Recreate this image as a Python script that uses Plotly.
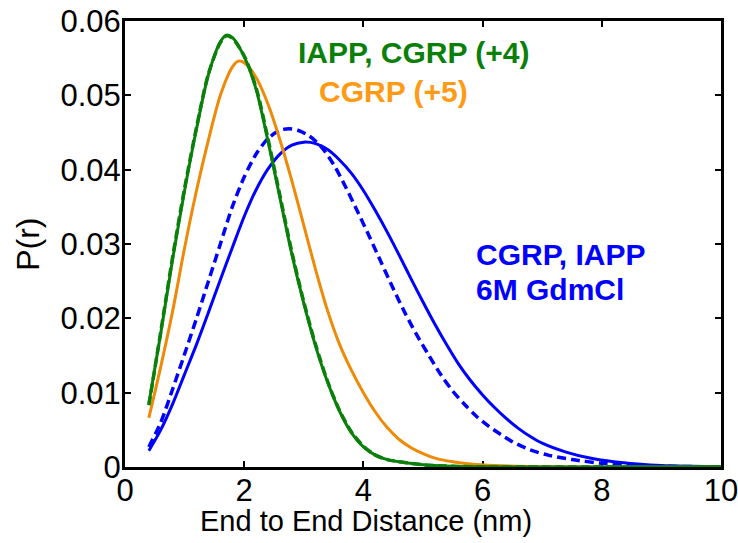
import plotly.graph_objects as go

# ---- data ----
green_x = [0.4, 0.6, 0.8, 1.0, 1.2, 1.4, 1.6, 1.7, 1.8, 2.0, 2.2, 2.4, 2.6, 2.8, 3.0, 3.2, 3.4,
           3.6, 3.8, 4.0, 4.2, 4.4, 4.6, 5.0, 5.5, 6.0, 7.0, 8.0, 9.0, 10.0]
green_y = [0.0085, 0.0180, 0.0280, 0.0372, 0.0455, 0.0528, 0.0572, 0.0581, 0.0578, 0.0552, 0.0508,
           0.0438, 0.0362, 0.0286, 0.0220, 0.0162, 0.0114, 0.0075, 0.0046, 0.0027, 0.0016, 0.0010,
           0.0007, 0.0003, 0.0001, 0.00003, 0.0, 0.0, 0.0, 0.0]
green_dash_x = [0.4, 0.6, 0.8, 1.0, 1.2, 1.4, 1.6, 1.7, 1.8, 2.0, 2.2, 2.4, 2.6, 2.8, 3.0, 3.2, 3.4,
                3.6, 3.8, 4.0, 4.2, 4.4, 4.6, 5.0, 5.5, 6.0, 7.0, 8.0, 9.0, 10.0]
green_dash_y = [0.0083, 0.0182, 0.0283, 0.0375, 0.0457, 0.0529, 0.0571, 0.0580, 0.0577, 0.0553, 0.0510,
                0.0441, 0.0365, 0.0289, 0.0222, 0.0164, 0.0115, 0.0076, 0.0047, 0.0028, 0.0016, 0.0010,
                0.0007, 0.0003, 0.0001, 0.00003, 0.0, 0.0, 0.0, 0.0]

orange_x = [0.4, 0.6, 0.8, 1.0, 1.2, 1.4, 1.6, 1.8, 1.9, 2.0, 2.2, 2.4, 2.6, 2.8, 3.0, 3.2, 3.4, 3.6,
            3.8, 4.0, 4.2, 4.4, 4.6, 4.8, 5.0, 5.2, 5.5, 5.8, 6.2, 7.0, 8.0, 9.0, 10.0]
orange_y = [0.0066, 0.0135, 0.0210, 0.0295, 0.0372, 0.0440, 0.0500, 0.0538, 0.0546, 0.0544, 0.0524,
            0.0488, 0.0440, 0.0385, 0.0325, 0.0265, 0.0210, 0.0165, 0.0130, 0.0100, 0.0074, 0.0053,
            0.0037, 0.0026, 0.0018, 0.0012, 0.0007, 0.0004, 0.0002, 0.00005, 0.0, 0.0, 0.0]

blue_x = [0.4, 0.6, 0.8, 1.0, 1.2, 1.4, 1.6, 1.8, 2.0, 2.2, 2.4, 2.6, 2.8, 3.0, 3.2, 3.4, 3.6, 3.8,
          4.0, 4.2, 4.4, 4.6, 4.8, 5.0, 5.2, 5.4, 5.6, 5.8, 6.0, 6.2, 6.4, 6.6, 6.8, 7.0, 7.4, 7.8,
          8.2, 8.6, 9.0, 9.5, 10.0]
blue_y = [0.0022, 0.0050, 0.0085, 0.0125, 0.0165, 0.0208, 0.0252, 0.0295, 0.0337, 0.0373, 0.0401,
          0.0421, 0.0433, 0.0437, 0.0435, 0.0427, 0.0413, 0.0395, 0.0372, 0.0345, 0.0316, 0.0285,
          0.0253, 0.0222, 0.0192, 0.0164, 0.0138, 0.0116, 0.0097, 0.0080, 0.0065, 0.0052, 0.0041,
          0.0032, 0.0020, 0.0012, 0.0007, 0.0004, 0.0002, 0.0001, 0.00003]

blue_dash_x = [0.4, 0.6, 0.8, 1.0, 1.2, 1.4, 1.6, 1.8, 2.0, 2.2, 2.4, 2.6, 2.75, 2.9, 3.1, 3.3, 3.5,
               3.7, 3.9, 4.1, 4.3, 4.5, 4.7, 4.9, 5.1, 5.3, 5.5, 5.7, 5.9, 6.1, 6.3, 6.5, 6.8, 7.1,
               7.5, 8.0, 8.5, 9.0, 10.0]
blue_dash_y = [0.0027, 0.0060, 0.0105, 0.0152, 0.0200, 0.0250, 0.0300, 0.0350, 0.0390, 0.0421, 0.0442,
               0.0453, 0.0455, 0.0453, 0.0445, 0.0430, 0.0407, 0.0377, 0.0344, 0.0310, 0.0275, 0.0240,
               0.0207, 0.0177, 0.0150, 0.0124, 0.0102, 0.0084, 0.0068, 0.0055, 0.0044, 0.0034, 0.0023,
               0.0016, 0.0010, 0.0005, 0.0002, 0.0001, 0.00002]

x_ticks = [0, 2, 4, 6, 8, 10]
y_ticks = [0, 0.01, 0.02, 0.03, 0.04, 0.05, 0.06]
y_tick_labels = ["0", "0.01", "0.02", "0.03", "0.04", "0.05", "0.06"]

GREEN = "#0A800A"
ORANGE_LINE = "#EE8A08"
ORANGE_TEXT = "#FF9A14"
BLUE = "#0000FF"
FONT = "Liberation Sans, Arial, sans-serif"

fig = go.Figure()
fig.add_trace(go.Scatter(x=blue_x, y=blue_y, mode="lines",
                         line=dict(color=BLUE, width=3, shape="spline", smoothing=0.8)))
fig.add_trace(go.Scatter(x=blue_dash_x, y=blue_dash_y, mode="lines",
                         line=dict(color=BLUE, width=3.5, dash="9px,5px", shape="spline", smoothing=0.8)))
fig.add_trace(go.Scatter(x=orange_x, y=orange_y, mode="lines",
                         line=dict(color=ORANGE_LINE, width=3, shape="spline", smoothing=0.8)))
fig.add_trace(go.Scatter(x=green_x, y=green_y, mode="lines",
                         line=dict(color=GREEN, width=3, shape="spline", smoothing=0.8)))
fig.add_trace(go.Scatter(x=green_dash_x, y=green_dash_y, mode="lines",
                         line=dict(color=GREEN, width=3.5, dash="9px,4px", shape="spline", smoothing=0.8)))

ann_font = dict(family=FONT, size=30, weight="bold")
fig.add_annotation(x=2.87, y=0.0558, text="IAPP, CGRP (+4)", showarrow=False, xanchor="left", yanchor="middle",
                   font=dict(**ann_font, color=GREEN))
fig.add_annotation(x=3.22, y=0.0505, text="CGRP (+5)", showarrow=False, xanchor="left", yanchor="middle",
                   font=dict(**ann_font, color=ORANGE_TEXT))
fig.add_annotation(x=5.85, y=0.0286, text="CGRP, IAPP", showarrow=False, xanchor="left", yanchor="middle",
                   font=dict(**ann_font, color=BLUE))
fig.add_annotation(x=5.85, y=0.0239, text="6M GdmCl", showarrow=False, xanchor="left", yanchor="middle",
                   font=dict(**ann_font, color=BLUE))

# axis titles (placed as in the reference)
fig.add_annotation(x=4.05, xref="x", y=-0.122, yref="paper", text="End to End Distance (nm)",
                   showarrow=False, xanchor="center", yanchor="middle",
                   font=dict(family=FONT, size=29, color="black"))
fig.add_annotation(x=-0.163, xref="paper", y=0.03, yref="y", text="P(r)", textangle=-90,
                   showarrow=False, xanchor="center", yanchor="middle",
                   font=dict(family=FONT, size=32, color="black"))

axis_common = dict(showline=True, linecolor="black", linewidth=3, mirror="ticks", ticks="inside",
                   ticklen=6, tickwidth=2, tickcolor="black", showgrid=False, zeroline=False,
                   layer="below traces", ticklabeloverflow="allow",
                   tickfont=dict(family=FONT, size=31, color="black"))

fig.update_xaxes(range=[0, 10], tickvals=x_ticks, ticktext=[str(v) for v in x_ticks],
                 ticklabelstandoff=-6, **axis_common)
fig.update_yaxes(range=[0, 0.06], tickvals=y_ticks, ticktext=y_tick_labels,
                 ticklabelstandoff=-5, **axis_common)

fig.update_layout(width=738, height=543, margin=dict(l=125, r=17, t=21, b=76, autoexpand=False),
                  plot_bgcolor="white", paper_bgcolor="white", showlegend=False)

fig.write_html("out.html")
